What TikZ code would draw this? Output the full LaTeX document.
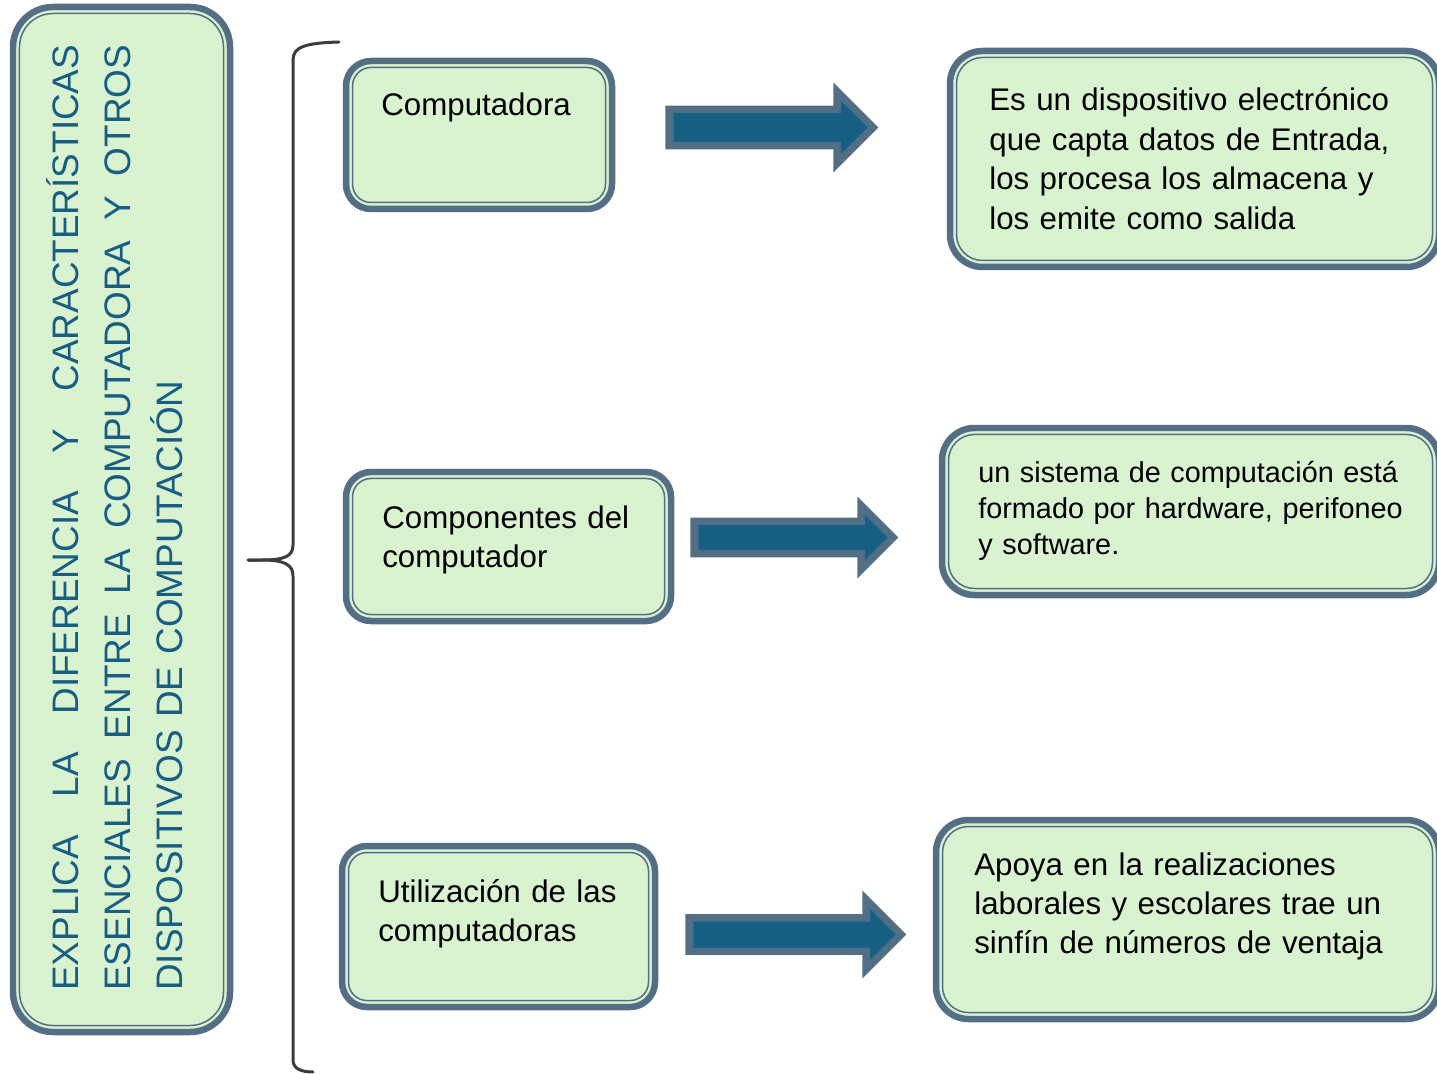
\documentclass[tikz,border=0pt]{standalone}
\usepackage{fontspec}
\setmainfont{Liberation Sans}
\usetikzlibrary{shapes.arrows,fit}

\definecolor{boxfill}{RGB}{217,242,208}
\definecolor{boxedge}{RGB}{84,110,133}
\definecolor{arrowfill}{RGB}{22,94,130}
\definecolor{arrowline}{RGB}{70,112,140}
\definecolor{titletext}{RGB}{24,94,130}
\definecolor{bracecol}{RGB}{60,60,60}

\tikzset{
	box/.style={rounded corners=#1, fill=boxfill, draw=boxedge, line width=0.13cm, inner sep=0pt,
		path picture={\draw[boxedge, line width=0.03cm, rounded corners=#1-0.13cm]
			([xshift=0.13cm,yshift=-0.13cm]path picture bounding box.north west) rectangle
			([xshift=-0.13cm,yshift=0.13cm]path picture bounding box.south east);}},
	txt/.style={inner sep=0pt, anchor=base west, text width=10cm, align=left,
		font=\fontsize{17.8}{22.4}\selectfont},
	smalltxt/.style={txt, font=\fontsize{16.4}{20.7}\selectfont},
	titletxt/.style={inner sep=0pt, rotate=90, anchor=base west, text width=19.2cm, align=left,
		text=titletext, font=\fontsize{21}{29.6}\selectfont},
	arrowout/.style={single arrow, anchor=tail, fill=boxedge, inner xsep=0pt, inner ysep=#1},
	arrowin/.style={single arrow, anchor=tail, fill=arrowfill, draw=arrowline, line width=0.03cm,
		inner xsep=0pt, inner ysep=#1},
	brace/.style={draw=bracecol, line width=0.06cm, line cap=round}
}

\begin{document}
\begin{tikzpicture}[x=0.02cm, y=-0.02cm]
	\useasboundingbox (0,0) rectangle (1437,1074);
	\clip (0,0) rectangle (1437,1074);

	% title box
	\node[box=0.8cm, fit={(13,7) (230,1032)}] (title) {};
	\node[titletxt] (ttl) at (78,991) {\makebox[18.92cm]{EXPLICA\hfill LA\hfill DIFERENCIA\hfill Y\hfill CARACTERÍSTICAS}\\
		\makebox[18.92cm]{ESENCIALES\hfill ENTRE\hfill LA\hfill COMPUTADORA\hfill Y\hfill OTROS}\\
		DISPOSITIVOS DE COMPUTACIÓN};

	% brace
	\coordinate (btop) at (339,42);
	\coordinate (btip) at (248,560);
	\coordinate (bbot) at (313,1072);
	\draw[brace] (btop) .. controls (305,43) and (293,47) .. (293,60) -- (293,545)
		.. controls (293,556) and (285,560) .. (262,560) -- (btip);
	\draw[brace] (btip) -- (262,560) .. controls (285,560) and (293,565) .. (293,576)
		-- (293,1060) .. controls (293,1068) and (300,1072) .. (bbot);

	% left boxes
	\node[box=0.5cm, fit={(346,61) (612,209)}] (b1) {};
	\node[box=0.5cm, fit={(346,472) (671,621)}] (b2) {};
	\node[box=0.5cm, fit={(342,846) (655,1007)}] (b3) {};
	\node[txt] (t1) at (381,116) {Computadora};
	\node[txt] (t2) at (382,528) {Componentes del\\computador};
	\node[txt] (t3) at (378,902) {Utilización de las\\computadoras};

	% right boxes
	\node[box=0.65cm, fit={(950,51) (1439,267)}] (r1) {};
	\node[box=0.65cm, fit={(942,428) (1439,595)}] (r2) {};
	\node[box=0.65cm, fit={(936,820) (1439,1019)}] (r3) {};
	\node[txt] (s1) at (989,111) {Es un dispositivo electrónico\\que capta datos de Entrada,\\los procesa los almacena y\\los emite como salida};
	\node[smalltxt] (s2) at (978,482) {un sistema de computación está\\formado por hardware, perifoneo\\y software.};
	\node[txt] (s3) at (974,875) {Apoya en la realizaciones\\laborales y escolares trae un\\sinfín de números de ventaja};

	% block arrows
	\node[arrowout=0.43cm, minimum height=4.26cm, single arrow head extend=0.46cm] (a1) at (665,127.5) {};
	\node[arrowin=0.29cm, minimum height=3.92cm, single arrow head extend=0.26cm] (a1i) at (672,127.5) {};
	\node[arrowout=0.39cm, minimum height=4.16cm, single arrow head extend=0.42cm] (a2) at (690,537.5) {};
	\node[arrowin=0.25cm, minimum height=3.82cm, single arrow head extend=0.22cm] (a2i) at (697,537.5) {};
	\node[arrowout=0.40cm, minimum height=4.42cm, single arrow head extend=0.47cm] (a3) at (685,934.5) {};
	\node[arrowin=0.26cm, minimum height=4.08cm, single arrow head extend=0.27cm] (a3i) at (692,934.5) {};
\end{tikzpicture}
\end{document}
